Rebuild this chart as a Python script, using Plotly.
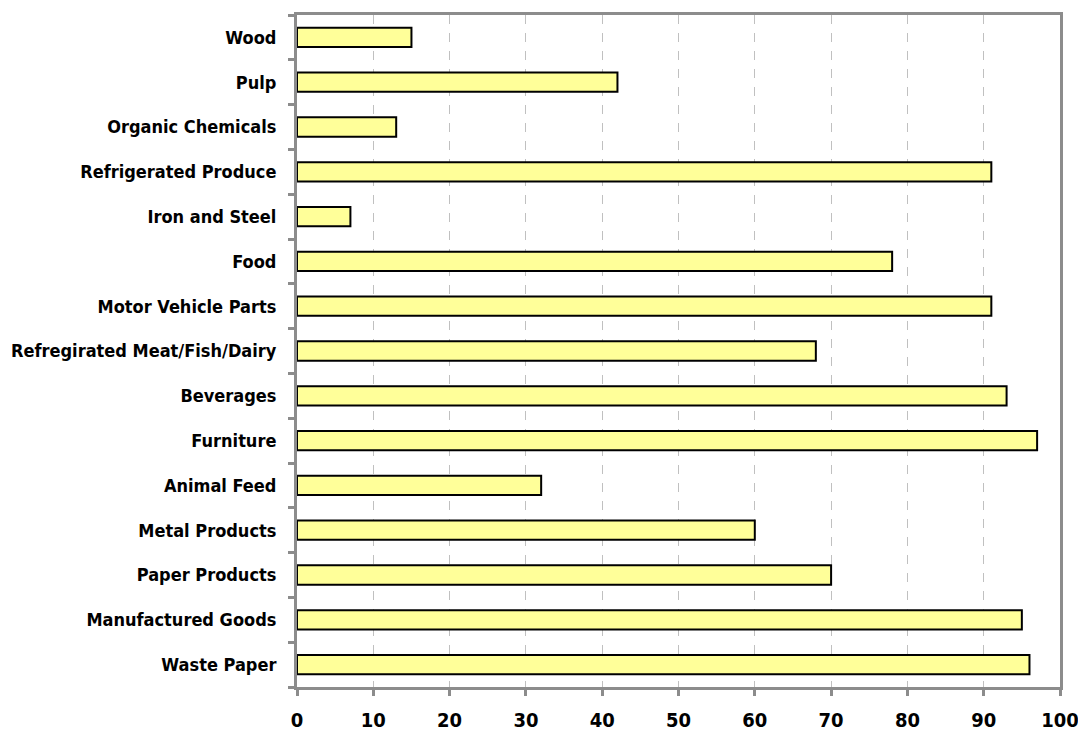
import plotly.graph_objects as go

# Commodity categories, listed top to bottom
categories = [
    "Wood",
    "Pulp",
    "Organic Chemicals",
    "Refrigerated Produce",
    "Iron and Steel",
    "Food",
    "Motor Vehicle Parts",
    "Refregirated Meat/Fish/Dairy",
    "Beverages",
    "Furniture",
    "Animal Feed",
    "Metal Products",
    "Paper Products",
    "Manufactured Goods",
    "Waste Paper",
]
values = [15, 42, 13, 91, 7, 78, 91, 68, 93, 97, 32, 60, 70, 95, 96]
x_ticks = [0, 10, 20, 30, 40, 50, 60, 70, 80, 90, 100]

FONT = "DejaVu Sans Condensed, Liberation Sans Narrow, sans-serif"
AXIS_GREY = "#8c8c8c"

fig = go.Figure(
    go.Bar(
        x=values,
        y=categories,
        orientation="h",
        marker=dict(color="#ffff99", line=dict(color="#000000", width=2)),
        hoverinfo="x+y",
    )
)

fig.update_layout(
    width=1078,
    height=731,
    margin=dict(l=297, r=18, t=15, b=44, autoexpand=False),
    paper_bgcolor="white",
    plot_bgcolor="white",
    bargap=0.57,
    showlegend=False,
    font=dict(family=FONT, size=18, color="#000000"),
)

fig.update_xaxes(
    range=[0, 100],
    tickvals=x_ticks,
    ticktext=[f"<b>{v}</b>" for v in x_ticks],
    showgrid=True,
    gridcolor="#c0c0c0",
    griddash="dash",
    gridwidth=1,
    showline=True,
    linecolor=AXIS_GREY,
    linewidth=3,
    mirror=True,
    ticks="outside",
    ticklen=6,
    tickwidth=3,
    tickcolor=AXIS_GREY,
    zeroline=False,
    automargin=False,
    ticklabeloverflow="allow",
    ticklabelstandoff=7,
    tickfont=dict(family=FONT, size=20),
)

fig.update_yaxes(
    categoryorder="array",
    categoryarray=categories,
    autorange="reversed",
    tickvals=categories,
    ticktext=[f"<b>{c}</b>" for c in categories],
    showgrid=False,
    showline=True,
    linecolor=AXIS_GREY,
    linewidth=3,
    mirror=True,
    ticks="outside",
    tickson="boundaries",
    ticklen=6,
    tickwidth=3,
    tickcolor=AXIS_GREY,
    automargin=False,
    ticklabelstandoff=14,
    tickfont=dict(family=FONT, size=18),
)

fig.write_html("out.html")
